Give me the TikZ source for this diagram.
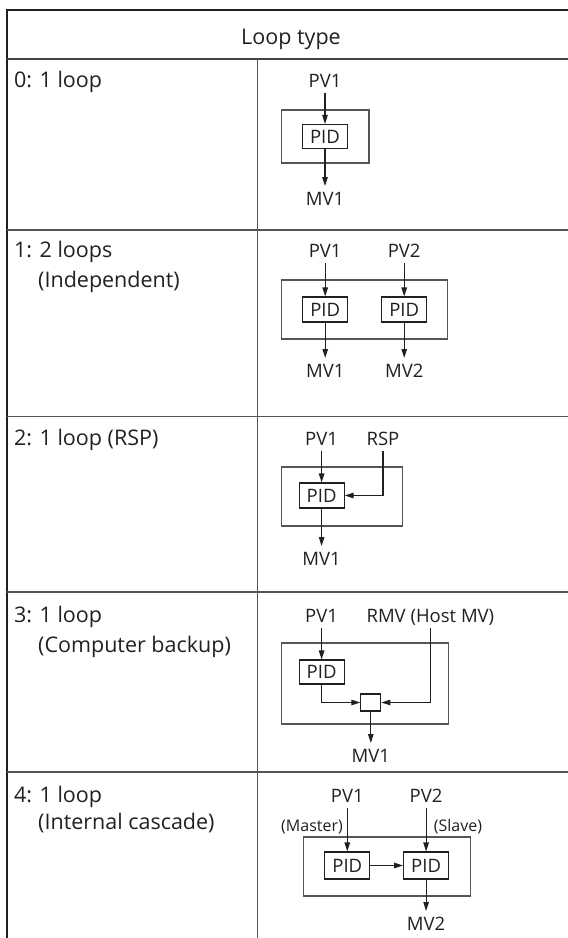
\documentclass[tikz,border=0pt]{standalone}
\usepackage{fontspec}
\setmainfont{Open Sans}
\usetikzlibrary{arrows.meta}
\definecolor{ink}{HTML}{231F20}
\definecolor{rule}{HTML}{555555}
\newcommand{\rowfont}{\fontsize{21.5}{26}\selectfont}
\newcommand{\sigfont}{\fontsize{18.5}{22}\selectfont}
\newcommand{\notefont}{\fontsize{16}{19}\selectfont}
\tikzset{
  frame/.style={draw=ink, line width=2.4pt, line join=miter},
  headrule/.style={draw=ink!85, line width=2pt},
  gridrule/.style={draw=rule, line width=1.5pt},
  unit/.style={draw=rule, line width=1.3pt},
  pidbox/.style={draw=ink, line width=1.1pt, minimum width=45pt, minimum height=24pt,
                 inner sep=0pt, font=\sigfont, text=ink},
  selbox/.style={draw=ink, line width=1.1pt, minimum width=20pt, minimum height=17pt, inner sep=0pt},
  sig/.style={draw=ink, line width=1.1pt, -{Triangle[length=9pt,width=5.5pt]}},
  rowlab/.style={anchor=base west, inner sep=0pt, font=\rowfont, text=ink},
  io/.style={anchor=base, inner sep=0pt, outer ysep=6pt, text height=13pt, text depth=0pt,
             font=\sigfont, text=ink},
  note/.style={anchor=base, inner sep=0pt, font=\notefont, text=ink},
}
\begin{document}
\begin{tikzpicture}[x=1pt, y=-1pt]
\useasboundingbox (0,0) rectangle (568,938);

% table frame and rules
\draw[frame] (7,940) -- (7,10) -- (570,10);
\draw[headrule] (7,59) -- (570,59);
\draw[gridrule] (257.6,59) -- (257.6,940);
\foreach \yy in {230,416.7,592,772} \draw[gridrule] (7,\yy) -- (570,\yy);

\node[anchor=base, inner sep=0pt, font=\rowfont, text=ink] (head) at (291,44) {Loop type};

% ---- 0: one loop
\node[rowlab] (t0) at (14,87) {0: 1 loop};
\draw[unit] (281.5,110) rectangle (369,163);
\node[io] (a0pv) at (325,87) {PV1};
\node[pidbox] (a0pid) at (325,136.5) {PID};
\node[io] (a0mv) at (325,205) {MV1};
\draw[sig] (a0pid.north |- a0pv.south) -- (a0pid.north);
\draw[sig] (a0pid.south) -- (a0pid.south |- a0mv.north);

% ---- 1: two independent loops
\node[rowlab] (t1) at (14,257) {1: 2 loops};
\node[rowlab] (t1b) at (38,287) {(Independent)};
\draw[unit] (281.5,280) rectangle (447.5,339);
\node[io] (b1pv) at (325.2,257) {PV1};
\node[io] (b2pv) at (404.2,257) {PV2};
\node[pidbox, minimum height=25pt] (b1pid) at (325.2,309.5) {PID};
\node[pidbox, minimum height=25pt] (b2pid) at (404.2,309.5) {PID};
\node[io] (b1mv) at (325.2,377) {MV1};
\node[io] (b2mv) at (404.2,377) {MV2};
\draw[sig] (b1pid.north |- b1pv.south) -- (b1pid.north);
\draw[sig] (b2pid.north |- b2pv.south) -- (b2pid.north);
\draw[sig] (b1pid.south) -- (b1pid.south |- b1mv.north);
\draw[sig] (b2pid.south) -- (b2pid.south |- b2mv.north);

% ---- 2: one loop with remote set point
\node[rowlab] (t2) at (14,445) {2: 1 loop (RSP)};
\draw[unit] (281.5,467) rectangle (402.2,526);
\node[io] (c0pv) at (321.6,445) {PV1};
\node[io] (c0rsp) at (383,445) {RSP};
\node[pidbox, minimum height=25pt] (c0pid) at (321.6,495.5) {PID};
\node[io] (c0mv) at (321.6,565) {MV1};
\draw[sig] (c0pid.north |- c0pv.south) -- (c0pid.north);
\draw[sig] (c0rsp.south) |- (c0pid.east);
\draw[sig] (c0pid.south) -- (c0pid.south |- c0mv.north);

% ---- 3: one loop with computer backup
\node[rowlab] (t3) at (14,622) {3: 1 loop};
\node[rowlab] (t3b) at (38,652) {(Computer backup)};
\draw[unit] (281.5,643) rectangle (448.2,724);
\node[io] (d0pv) at (321.6,622) {PV1};
\node[io] (d0rmv) at (430.4,622) {RMV (Host MV)};
\node[pidbox] (d0pid) at (321.6,672) {PID};
\node[selbox] (d0sel) at (370.8,702.5) {};
\node[io] (d0mv) at (370.8,762) {MV1};
\draw[sig] (d0pid.north |- d0pv.south) -- (d0pid.north);
\draw[sig] (d0pid.south) |- (d0sel.west);
\draw[sig] (d0rmv.south) |- (d0sel.east);
\draw[sig] (d0sel.south) -- (d0sel.south |- d0mv.north);

% ---- 4: internal cascade
\node[rowlab] (t4) at (14,802) {4: 1 loop};
\node[rowlab] (t4b) at (38,829) {(Internal cascade)};
\draw[unit] (303.6,837) rectangle (470.3,896);
\node[io] (e1pv) at (347.3,802) {PV1};
\node[io] (e2pv) at (426.1,802) {PV2};
\node[note] (e1note) at (312,831) {(Master)};
\node[note] (e2note) at (458,831) {(Slave)};
\node[pidbox, minimum height=27pt] (e1pid) at (347.3,865.5) {PID};
\node[pidbox, minimum height=27pt] (e2pid) at (426.1,865.5) {PID};
\node[io] (e2mv) at (426.1,930) {MV2};
\draw[sig] (e1pid.north |- e1pv.south) -- (e1pid.north);
\draw[sig] (e2pid.north |- e2pv.south) -- (e2pid.north);
\draw[sig] (e1pid.east) -- (e2pid.west);
\draw[sig] (e2pid.south) -- (e2pid.south |- e2mv.north);
\end{tikzpicture}
\end{document}
